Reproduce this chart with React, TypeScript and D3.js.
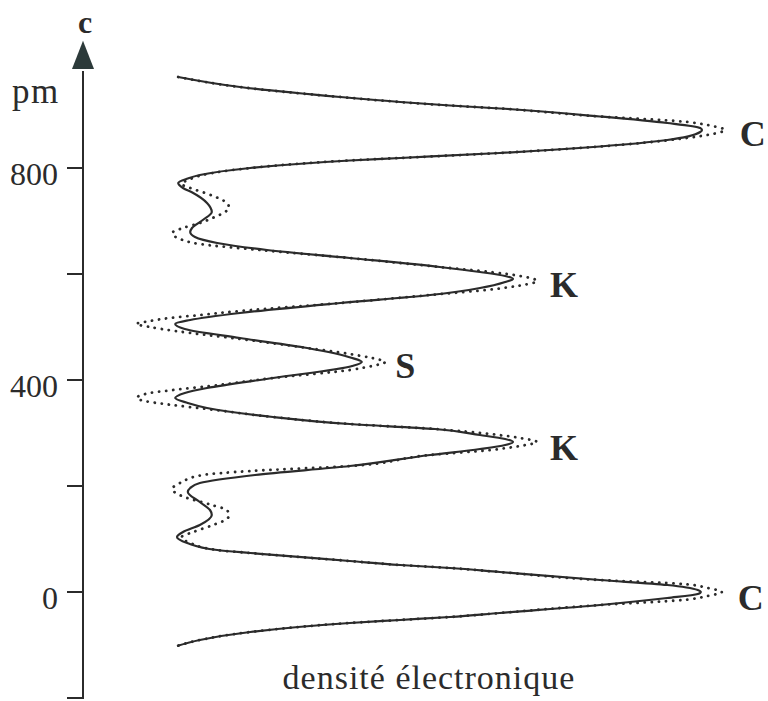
import React from "react";
import * as d3 from "d3";

// c position along the axis (pm) and electron density (arbitrary units), measured curve
const solidC = [971.7, 952.8, 934.0, 924.5, 917.9, 912.3, 897.2, 884.9, 875.5, 871.7, 867.9, 852.8, 840.6, 828.3, 818.9, 814.2, 800.0, 786.8, 780.2, 771.7, 762.3, 752.8, 734.0, 717.0, 701.9, 686.8, 679.2, 669.8, 658.5, 645.3, 630.2, 613.2, 603.8, 596.2, 590.6, 584.9, 573.6, 560.4, 545.3, 526.4, 513.2, 505.7, 496.2, 479.2, 460.4, 441.5, 434.0, 426.4, 403.8, 384.9, 375.5, 366.0, 356.6, 347.2, 330.2, 317.0, 307.5, 296.2, 288.7, 283.0, 277.4, 269.8, 258.5, 237.7, 220.8, 205.7, 196.2, 188.7, 169.8, 154.7, 145.3, 126.4, 113.2, 103.8, 92.5, 79.2, 73.6, 58.5, 50.9, 45.3, 37.7, 22.6, 13.2, 3.8, 0, -3.8, -11.3, -24.5, -39.6, -47.2, -52.8, -58.5, -75.5, -90.6, -101.9];
const solidD = [9.7, 20.0, 36.7, 46.7, 55.0, 63.3, 80.0, 91.2, 96.7, 97.0, 96.7, 91.2, 80.0, 63.3, 46.7, 38.3, 21.7, 13.3, 11.3, 9.7, 10.5, 12.2, 14.5, 15.3, 13.8, 12.0, 11.7, 12.5, 16.2, 24.5, 38.3, 53.3, 60.0, 64.2, 65.5, 64.2, 60.0, 51.7, 36.7, 20.0, 11.7, 9.2, 10.8, 20.0, 31.2, 38.7, 40.3, 38.7, 25.5, 14.5, 10.8, 9.2, 11.3, 14.5, 25.5, 38.3, 52.5, 60.0, 64.2, 65.5, 64.2, 60.0, 51.7, 38.3, 22.5, 13.3, 11.7, 11.3, 13.3, 15.0, 15.3, 13.3, 10.5, 9.5, 11.2, 16.2, 21.7, 38.3, 46.7, 55.0, 63.3, 80.0, 91.2, 96.3, 96.8, 96.3, 91.2, 80.0, 63.3, 55.0, 46.7, 38.3, 21.7, 13.3, 9.5];

// calculated (dotted) curve
const dottedC = [971.7, 952.8, 934.0, 924.5, 917.9, 912.3, 897.2, 887.7, 880.2, 871.7, 863.2, 855.7, 840.6, 828.3, 818.9, 814.2, 800.0, 786.8, 779.2, 769.8, 762.3, 752.8, 734.0, 724.5, 717.0, 707.5, 696.2, 686.8, 677.4, 666.0, 656.6, 645.3, 630.2, 613.2, 603.8, 596.2, 586.8, 578.3, 571.7, 560.4, 545.3, 530.2, 522.6, 517.0, 511.3, 505.7, 500.0, 492.5, 484.9, 477.4, 460.4, 449.1, 441.5, 434.0, 426.4, 418.9, 403.8, 388.7, 381.1, 375.5, 366.0, 358.5, 352.8, 345.3, 330.2, 317.0, 307.5, 298.1, 290.6, 283.0, 275.5, 267.9, 258.5, 237.7, 228.3, 220.8, 205.7, 194.3, 181.1, 164.2, 154.7, 145.3, 137.7, 126.4, 113.2, 103.8, 92.5, 79.2, 73.6, 58.5, 50.9, 45.3, 37.7, 22.6, 15.1, 7.5, 0, -7.5, -15.1, -24.5, -39.6, -47.2, -52.8, -58.5, -75.5, -90.6, -101.9];
const dottedD = [9.7, 20.0, 36.7, 46.7, 55.0, 63.3, 80.0, 93.8, 98.3, 100.8, 98.3, 93.8, 80.0, 63.3, 46.7, 38.3, 21.7, 13.8, 11.7, 10.3, 11.7, 14.2, 17.8, 18.2, 17.5, 15.8, 13.3, 10.5, 8.7, 10.0, 13.3, 23.3, 38.3, 53.3, 61.7, 66.7, 69.5, 66.7, 62.5, 51.7, 36.7, 20.0, 13.3, 8.3, 5.0, 2.7, 5.0, 9.2, 14.5, 20.0, 31.2, 38.3, 42.0, 44.2, 42.0, 38.3, 25.5, 15.0, 8.8, 5.0, 2.8, 5.0, 8.8, 14.5, 25.5, 38.3, 52.5, 61.7, 66.7, 69.5, 66.7, 61.7, 51.7, 38.3, 21.7, 13.8, 10.0, 8.7, 10.3, 15.3, 17.8, 18.2, 17.8, 15.5, 12.2, 10.3, 11.7, 16.2, 21.7, 38.3, 46.7, 55.0, 63.3, 80.0, 93.8, 98.0, 100.3, 98.0, 93.8, 80.0, 63.3, 55.0, 46.7, 38.3, 21.7, 13.3, 9.5];

// peak labels: atom letter, c of the peak, dotted peak density
const peakLabels = ["C", "K", "S", "K", "C"];
const peakC = [871.7, 586.8, 434.0, 283.0, 0];
const peakD = [100.8, 69.5, 44.2, 69.5, 100.3];

const tickValues = [-200, 0, 200, 400, 600, 800];
const labelledTicks = [0, 400, 800];
const axisTitle = "densité électronique";
const axisName = "c";
const axisUnit = "pm";

const W = 768;
const H = 701;
const FONT = "'Liberation Serif', 'Times New Roman', serif";
const INK = "#2b2b2b";

export default function App() {
  const y = d3.scaleLinear().domain([0, 800]).range([592, 168]);
  const x = d3.scaleLinear().domain([0, 100]).range([120, 720]);
  const axisX = 83;

  const line = d3
    .line<[number, number]>()
    .x((p) => x(p[1]))
    .y((p) => y(p[0]))
    .curve(d3.curveMonotoneY);

  const solidPts = solidC.map((c, i) => [c, solidD[i]] as [number, number]);
  const dottedPts = dottedC.map((c, i) => [c, dottedD[i]] as [number, number]);

  const arrowTip = y(1040);
  const arrowBase = y(987);
  const labelOffsetY = [4, 4, 4, 6, 6];
  const labelOffsetX = [15, 13, 10, 13, 16];

  return (
    <svg
      width={W}
      height={H}
      viewBox={`0 0 ${W} ${H}`}
      style={{ position: "absolute", left: 0, top: 0, background: "#fff" }}
    >
      <rect x={0} y={0} width={W} height={H} fill="#fff" />
      {/* axis */}
      <line x1={axisX} x2={axisX} y1={y(-200) + 1} y2={arrowBase + 2} stroke={INK} strokeWidth={2} />
      <path
        d={`M${axisX},${arrowTip} L${axisX + 11},${arrowBase} L${axisX - 11},${arrowBase} Z`}
        fill="#2c3a3a"
      />
      {tickValues.map((t) => (
        <line key={t} x1={axisX - 16} x2={axisX} y1={y(t)} y2={y(t)} stroke={INK} strokeWidth={2} />
      ))}
      {labelledTicks.map((t) => (
        <text
          key={t}
          x={58}
          y={y(t) + 16.5}
          textAnchor="end"
          fontFamily={FONT}
          fontSize={32}
          fill={INK}
        >
          {t}
        </text>
      ))}
      <text x={axisX + 2} y={33} textAnchor="middle" fontFamily={FONT} fontSize={32} fontWeight="bold" fill={INK}>
        {axisName}
      </text>
      <text x={12} y={103} fontFamily={FONT} fontSize={35} fill={INK} letterSpacing={1.5}>
        {axisUnit}
      </text>

      {/* curves */}
      <path d={line(solidPts) || ""} fill="none" stroke={INK} strokeWidth={2.2} strokeLinejoin="round" />
      <path
        d={line(dottedPts) || ""}
        fill="none"
        stroke={INK}
        strokeWidth={2.8}
        strokeDasharray="0.1 7"
        strokeLinecap="round"
      />

      {peakLabels.map((l, i) => (
        <text
          key={i}
          x={x(peakD[i]) + labelOffsetX[i]}
          y={y(peakC[i]) + labelOffsetY[i]}
          dominantBaseline="central"
          fontFamily={FONT}
          fontSize={36}
          fontWeight="bold"
          fill={INK}
        >
          {l}
        </text>
      ))}

      <text
        x={429}
        y={689}
        textAnchor="middle"
        fontFamily={FONT}
        fontSize={34}
        fill={INK}
        letterSpacing={1}
      >
        {axisTitle}
      </text>
    </svg>
  );
}
